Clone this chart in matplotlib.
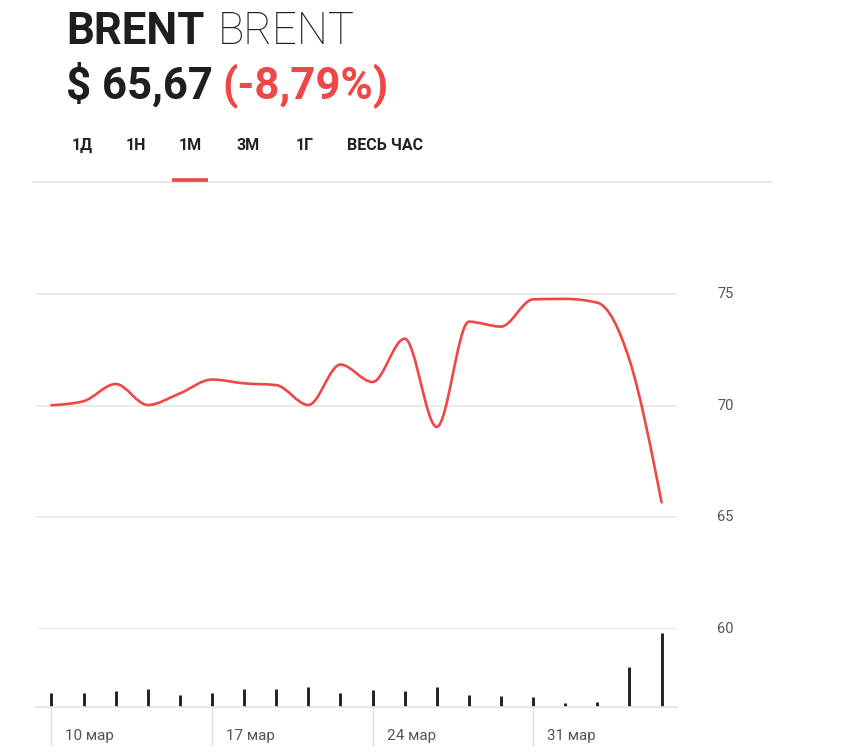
import numpy as np
import matplotlib
matplotlib.use("Agg")
import matplotlib.pyplot as plt
from matplotlib.path import Path
from matplotlib.patches import PathPatch

# trading days 10 Mar .. 4 Apr
days = list(range(20))
price = [70.02, 70.20, 70.97, 70.03, 70.55, 71.17, 71.00, 70.92, 70.03, 71.84,
         71.06, 73.00, 69.05, 73.76, 73.54, 74.76, 74.78, 74.61, 72.05, 65.67]
volume = [14.3, 14.3, 15.7, 17.7, 11.7, 14.3, 17.7, 17.7, 20.3, 14.0,
          16.7, 15.7, 20.3, 12.3, 11.3, 10.3, 3.7, 5.0, 40.0, 74.0]
week_ticks = [0, 5, 10, 15]
week_labels = ["10 мар", "17 мар", "24 мар", "31 мар"]
price_ticks = [60, 65, 70, 75]
tabs = ["1Д", "1Н", "1М", "3М", "1Г", "ВЕСЬ ЧАС"]
tab_x = [72, 126, 179, 236, 296, 347]

RED = "#ef4646"
W, H = 847, 753
HEAD = ["Roboto", "DejaVu Sans"]
AXF = ["Roboto", "DejaVu Sans"]


def fx(x):
    return x / W


def fy(y):
    return 1 - y / H


def monotone_path(xs, ys):
    """Bezier path like d3 curveMonotoneX."""
    xs = np.asarray(xs, float)
    ys = np.asarray(ys, float)
    n = len(xs)
    h = np.diff(xs)
    s = np.diff(ys) / h
    t = np.zeros(n)
    for i in range(1, n - 1):
        p = (s[i - 1] * h[i] + s[i] * h[i - 1]) / (h[i - 1] + h[i])
        t[i] = (np.sign(s[i - 1]) + np.sign(s[i])) * min(abs(s[i - 1]), abs(s[i]), 0.5 * abs(p))
    t[0] = (3 * s[0] - t[1]) / 2
    t[-1] = (3 * s[-1] - t[-2]) / 2
    verts = [(xs[0], ys[0])]
    codes = [Path.MOVETO]
    for i in range(n - 1):
        dx = h[i] / 3
        verts += [(xs[i] + dx, ys[i] + dx * t[i]),
                  (xs[i + 1] - dx, ys[i + 1] - dx * t[i + 1]),
                  (xs[i + 1], ys[i + 1])]
        codes += [Path.CURVE4] * 3
    return Path(verts, codes)


fig = plt.figure(figsize=(W / 100, H / 100), dpi=100)
fig.patch.set_facecolor("white")
renderer = fig.canvas.get_renderer()


def right_edge(txt):
    return txt.get_window_extent(renderer=renderer).x1


# header: second piece starts a fixed gap after the first
t1 = fig.text(fx(66), fy(44), "BRENT", fontsize=31.5, fontweight="bold", family=HEAD,
              color="#1e1e1e", va="baseline")
fig.text((right_edge(t1) + 13) / W, fy(44), "BRENT", fontsize=31.5, fontweight="light",
         family=HEAD, color="#1e1e1e", va="baseline")
t2 = fig.text(fx(66), fy(99), "$ 65,67", fontsize=31.5, fontweight="bold", family=HEAD,
              color="#1e1e1e", va="baseline")
fig.text((right_edge(t2) + 9) / W, fy(99), "(-8,79%)", fontsize=31.5, fontweight="bold",
         family=HEAD, color=RED, va="baseline")

for lbl, x in zip(tabs, tab_x):
    fig.text(fx(x), fy(150), lbl, fontsize=11.5, fontweight="semibold", family=HEAD,
             color="#222222", va="baseline")

fig.add_artist(plt.Line2D([fx(33), fx(771)], [fy(181.5), fy(181.5)],
                          color="#e2e2e2", lw=1.2))
fig.add_artist(plt.Line2D([fx(172), fx(208)], [fy(180), fy(180)],
                          color=RED, lw=2.6, solid_capstyle="butt"))

# price chart
ax = fig.add_axes([fx(36), fy(707), (677 - 36) / W, (707 - 250) / H])
ppu = (629 - 294) / 15.0
ax.set_ylim(60 - (707 - 629) / ppu, 75 + (294 - 250) / ppu)
ax.set_xlim(-0.48, 19.48)
for v in price_ticks:
    ax.axhline(v, color="#e6e6e6", lw=1.1, zorder=0)
    ax.annotate(str(v), xy=(1, v), xycoords=("axes fraction", "data"),
                xytext=(40, 0), textcoords="offset pixels", ha="left", va="center",
                fontsize=10.5, color="#555555", family=AXF)
ax.add_patch(PathPatch(monotone_path(days, price), fill=False, edgecolor=RED,
                       lw=1.9, capstyle="round", joinstyle="round", zorder=3))
ax.axis("off")

# volume bars
vax = fig.add_axes([fx(36), fy(707), (677 - 36) / W, 78 / H])
vax.set_xlim(-0.48, 19.48)
vax.set_ylim(0, 78)
vax.vlines(days, 0, volume, colors="#222222", lw=2.1)
for side in ["top", "left", "right"]:
    vax.spines[side].set_visible(False)
vax.spines["bottom"].set_color("#e2e2e2")
vax.spines["bottom"].set_linewidth(1.2)
vax.set_yticks([])
vax.set_xticks(week_ticks)
vax.set_xticklabels([])
vax.tick_params(axis="x", direction="out", length=28, width=1, color="#dddddd")
for d, lbl in zip(week_ticks, week_labels):
    vax.annotate(lbl, xy=(d, 0), xycoords=("data", "axes fraction"),
                 xytext=(14, -29), textcoords="offset pixels", ha="left", va="center",
                 fontsize=11, color="#555555", family=AXF)

fig.savefig("out.png", dpi=100, facecolor="white")
